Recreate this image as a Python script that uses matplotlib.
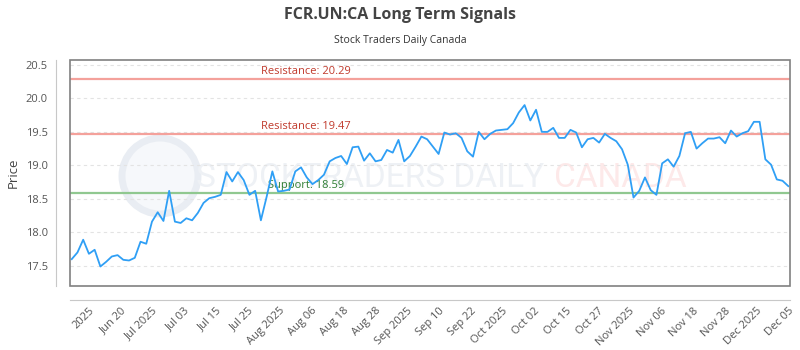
import matplotlib
matplotlib.use("Agg")
import matplotlib.pyplot as plt
from matplotlib.patches import Rectangle, Ellipse
import numpy as np

# daily closes
prices = [17.60, 17.70, 17.89, 17.68, 17.74, 17.49, 17.56, 17.64, 17.66, 17.59,
          17.58, 17.62, 17.86, 17.83, 18.16, 18.30, 18.17, 18.62, 18.16, 18.14,
          18.21, 18.18, 18.29, 18.44, 18.51, 18.53, 18.56, 18.90, 18.76, 18.90,
          18.78, 18.56, 18.62, 18.18, 18.53, 18.91, 18.61, 18.62, 18.64, 18.91,
          18.97, 18.82, 18.72, 18.78, 18.86, 19.06, 19.11, 19.14, 19.02, 19.27,
          19.28, 19.07, 19.18, 19.06, 19.08, 19.23, 19.19, 19.38, 19.06, 19.14,
          19.28, 19.43, 19.39, 19.28, 19.17, 19.49, 19.46, 19.48, 19.41, 19.21,
          19.13, 19.50, 19.39, 19.47, 19.52, 19.53, 19.54, 19.63, 19.79, 19.90,
          19.67, 19.83, 19.50, 19.50, 19.56, 19.41, 19.41, 19.53, 19.49, 19.27,
          19.39, 19.41, 19.34, 19.47, 19.41, 19.36, 19.24, 19.01, 18.52, 18.62,
          18.82, 18.63, 18.56, 19.03, 19.09, 18.98, 19.14, 19.48, 19.50, 19.25,
          19.33, 19.40, 19.40, 19.42, 19.33, 19.52, 19.43, 19.48, 19.51, 19.65,
          19.65, 19.09, 19.01, 18.79, 18.77, 18.69]

tick_labels = ["2025", "Jun 20", "Jul 2025", "Jul 03", "Jul 15", "Jul 25",
               "Aug 2025", "Aug 06", "Aug 18", "Aug 28", "Sep 2025", "Sep 10",
               "Sep 22", "Oct 2025", "Oct 02", "Oct 15", "Oct 27", "Nov 2025",
               "Nov 06", "Nov 18", "Nov 28", "Dec 2025", "Dec 05"]

resistances = [20.29, 19.47]
support = 18.59

plt.rcParams['font.family'] = ['Open Sans', 'DejaVu Sans']

fig = plt.figure(figsize=(8, 3.5), dpi=100)
ax = fig.add_axes([0.0875, 0.183, 0.9, 0.646])
ax.patch.set_alpha(0)

# spines first: set_position resets the ticks
for s in ["top", "right"]:
    ax.spines[s].set_visible(False)
for s in ["left", "bottom"]:
    ax.spines[s].set_position(("outward", 10))
    ax.spines[s].set_color("#c8c8c8")
ax.add_patch(Rectangle((0, 0), 1, 1, transform=ax.transAxes, fill=False,
                       edgecolor="#808080", lw=1.2, clip_on=False, zorder=4))

# watermark
fig.patches.append(Ellipse((160 / 800, 1 - 176 / 350), 76 / 800, 76 / 350,
                           transform=fig.transFigure, facecolor="#f6f8fb",
                           edgecolor="#e9edf3", lw=5, zorder=-2))
fig.text(370 / 800, 1 - 178 / 350, "STOCKTRADERS DAILY", fontsize=24, family="Roboto",
         color="#eef1f5", ha="center", va="center", zorder=-1)
fig.text(620 / 800, 1 - 178 / 350, "CANADA", fontsize=24, family="Roboto",
         color="#fde9e9", ha="center", va="center", zorder=-1)

ytr = ax.get_yaxis_transform()
for r in resistances:
    ax.axhline(r, color="#f4a19b", lw=1.6, zorder=2)
    ax.text(0.265, r + 0.03, f"Resistance: {r:.2f}", transform=ytr,
            color="#c0392b", fontsize=8, va="bottom", ha="left")
ax.axhline(support, color="#90c890", lw=1.6, zorder=2)
ax.text(0.275, support + 0.03, f"Support: {support:.2f}", transform=ytr,
        color="#2e7d32", fontsize=8, va="bottom", ha="left")

x = np.arange(len(prices))
ax.plot(x, prices, color="#2f9ff5", lw=1.3, zorder=3)

ax.set_xlim(-0.3, len(prices) - 1 + 0.3)
ax.set_ylim(17.2, 20.575)
ax.set_yticks([17.5, 18.0, 18.5, 19.0, 19.5, 20.0, 20.5])
ax.set_yticklabels([f"{v:.1f}" for v in ax.get_yticks()])
ax.grid(axis="y", color="#e3e3e3", ls=(0, (3, 3)), lw=0.8)
ax.set_axisbelow(True)

ax.set_xticks(np.linspace(3, len(prices) - 1, len(tick_labels)))
ax.set_xticklabels(tick_labels, rotation=45, ha="right", rotation_mode="anchor")

ax.tick_params(length=0, labelsize=8, colors="#555555", pad=6)
ax.tick_params(axis="x", pad=4)

ax.set_ylabel("Price", fontsize=9.5, color="#444444", labelpad=4)

fig.text(0.5, 1 - 15 / 350, "FCR.UN:CA Long Term Signals", ha="center", va="center",
         fontsize=11.5, fontweight="bold", color="#444444")
fig.text(0.5, 1 - 40 / 350, "Stock Traders Daily Canada", ha="center", va="center",
         fontsize=7.5, color="#333333")

fig.savefig("out.png", dpi=100)
